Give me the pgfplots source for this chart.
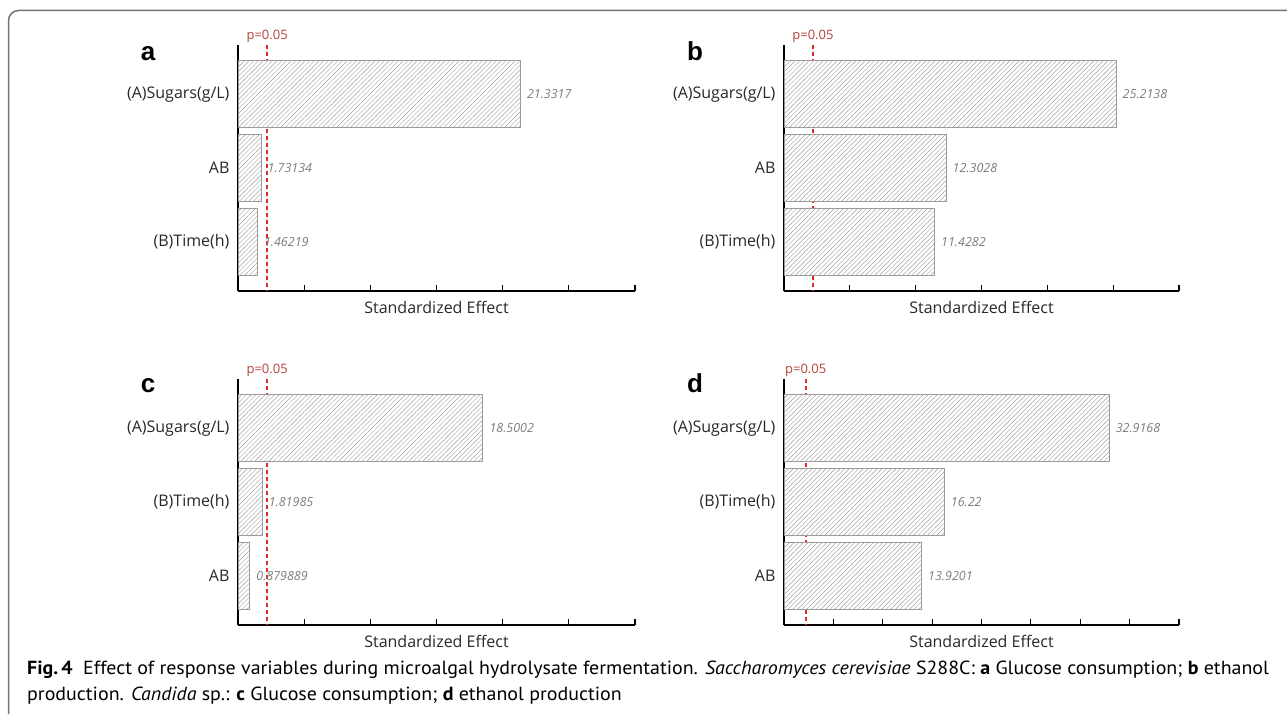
\documentclass[border=0pt]{standalone}
\usepackage{fontspec}
\setmainfont{Open Sans}
\newfontfamily\arialf{Liberation Sans}
\newfontfamily\capf[FakeStretch=1.05]{PT Sans}
\usepackage{pgfplots}
\pgfplotsset{compat=1.18}
\usetikzlibrary{patterns.meta}
\definecolor{pred}{RGB}{228,40,40}
\definecolor{ptext}{RGB}{180,65,60}
\definecolor{barline}{RGB}{155,155,155}
\definecolor{hatch}{RGB}{160,160,160}
\definecolor{vallab}{RGB}{125,125,125}
\definecolor{framec}{RGB}{115,115,115}
\definecolor{ticktext}{RGB}{40,40,40}

\tikzset{plabel/.style={text=ptext, anchor=south, font=\fontsize{13}{13}\selectfont, inner sep=2pt}}
\pgfplotsset{
  pareto/.style={
    scale only axis, width=397pt, height=246pt,
    xmin=0, ymin=-0.67, ymax=2.67, y dir=reverse,
    axis x line*=bottom, axis y line*=left,
    axis line style={black, line width=1.3pt},
    xtick distance=5, xticklabels={},
    x tick style={black, line width=1.1pt},
    major tick length=6pt, tick align=inside,
    ytick={0,1,2}, y tick style={draw=none},
    yticklabel style={font=\fontsize{16}{16}\selectfont, text=ticktext, xshift=-5pt},
    xlabel={Standardized Effect},
    xlabel style={font=\fontsize{16}{16}\selectfont, text=ticktext, at={(axis description cs:0.5,0)}, anchor=base, yshift=-22pt},
    bar width=67pt, clip=false,
  },
  bars/.style={xbar, draw=barline, line width=0.8pt, fill=white,
    postaction={pattern={Lines[angle=45,distance=3.3pt,line width=0.45pt]}, pattern color=hatch},
    nodes near coords, point meta=explicit symbolic,
    every node near coord/.append style={font=\itshape\fontsize{12.5}{12.5}\selectfont, text=vallab, anchor=west, xshift=3pt}},
  pline/.style={draw=pred, color=pred, line width=1.8pt, dash pattern=on 4pt off 3pt, forget plot},
}

\begin{document}
\begin{tikzpicture}[x=1pt,y=1pt]
\path[use as bounding box] (0,0) rectangle (1287,716);
\draw[framec, line width=1.5pt, rounded corners=10pt] (8.5,2) -- (8.5,705.5) -- (1287,705.5);

% panel a
\begin{axis}[pareto, at={(238pt,425pt)}, anchor=south west, xmax=30,
  yticklabels={(A)Sugars(g/L),AB,(B)Time(h)}]
\addplot[pline] coordinates {(2.2,-0.67) (2.2,2.67)};
\addplot[bars] coordinates {(21.3317,0) [21.3317] (1.73134,1) [1.73134] (1.46219,2) [1.46219]};
\node[plabel] at (axis cs:2.2,-0.67) {p=0.05};
\end{axis}

% panel b
\begin{axis}[pareto, width=395pt, at={(784pt,425pt)}, anchor=south west, xmax=30,
  yticklabels={(A)Sugars(g/L),AB,(B)Time(h)}]
\addplot[pline] coordinates {(2.2,-0.67) (2.2,2.67)};
\addplot[bars] coordinates {(25.2138,0) [25.2138] (12.3028,1) [12.3028] (11.4282,2) [11.4282]};
\node[plabel] at (axis cs:2.2,-0.67) {p=0.05};
\end{axis}

% panel c
\begin{axis}[pareto, at={(238pt,91pt)}, anchor=south west, xmax=30,
  yticklabels={(A)Sugars(g/L),(B)Time(h),AB}]
\addplot[pline] coordinates {(2.2,-0.67) (2.2,2.67)};
\addplot[bars] coordinates {(18.5002,0) [18.5002] (1.81985,1) [1.81985] (0.879889,2) [0.879889]};
\node[plabel] at (axis cs:2.2,-0.67) {p=0.05};
\end{axis}

% panel d
\begin{axis}[pareto, width=395pt, at={(784pt,91pt)}, anchor=south west, xmax=40,
  yticklabels={(A)Sugars(g/L),(B)Time(h),AB}]
\addplot[pline] coordinates {(2.2,-0.67) (2.2,2.67)};
\addplot[bars] coordinates {(32.9168,0) [32.9168] (16.22,1) [16.22] (13.9201,2) [13.9201]};
\node[plabel] at (axis cs:2.2,-0.67) {p=0.05};
\end{axis}

\begin{scope}[every node/.style={font=\arialf\bfseries\fontsize{26}{26}\selectfont, anchor=base, inner sep=0}]
\node at (148,655) {a};
\node at (695,655) {b};
\node at (148,324) {c};
\node at (695,324) {d};
\end{scope}

\begin{scope}[every node/.style={font=\capf\fontsize{19}{19}\selectfont, anchor=base west, inner sep=0}]
\node at (27,42) {\textbf{Fig.\,4}\hspace{0.55em}Effect of response variables during microalgal hydrolysate fermentation. \textit{Saccharomyces cerevisiae} S288C: \textbf{a} Glucose consumption; \textbf{b} ethanol};
\node at (27,16) {production. \textit{Candida} sp.: \textbf{c} Glucose consumption; \textbf{d} ethanol production};
\end{scope}
\end{tikzpicture}
\end{document}
